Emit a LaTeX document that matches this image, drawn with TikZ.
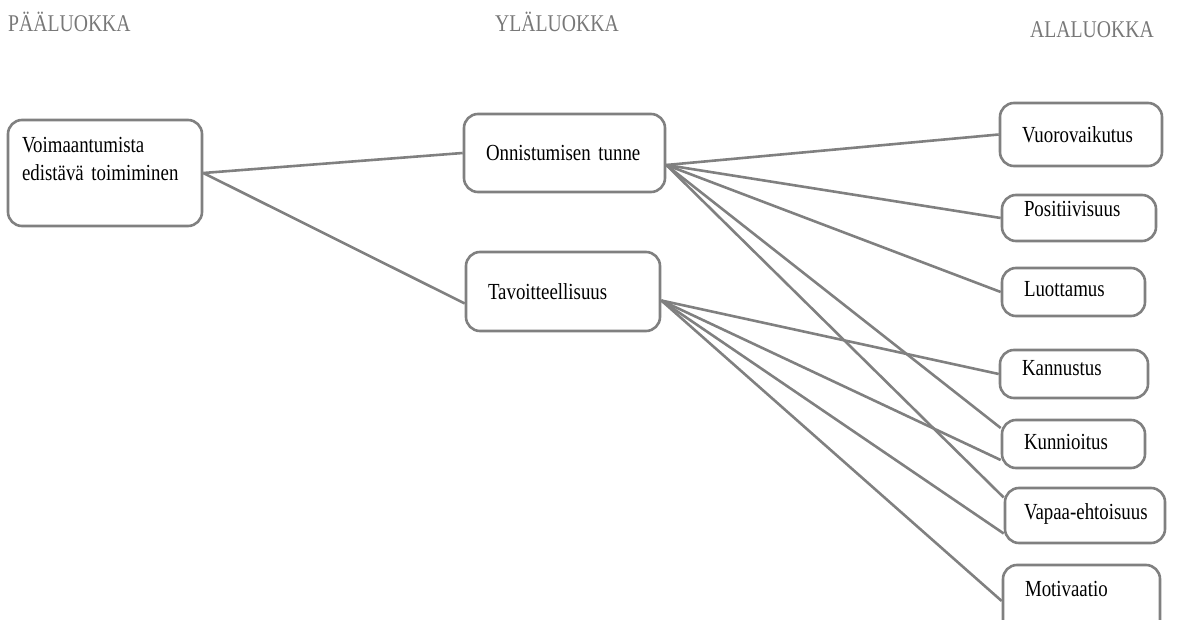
\documentclass[tikz,border=0pt]{standalone}
\usepackage{fontspec}
\setmainfont{Liberation Serif}[FakeStretch=0.82, WordSpace=0.85]
\usepackage{tikz}
\usetikzlibrary{calc}
\definecolor{linegray}{RGB}{128,128,128}
\definecolor{headgray}{RGB}{120,120,120}
\newcommand{\boxfont}{\fontsize{23}{28}\selectfont}
\newcommand{\headfont}{\fontsize{24}{28}\selectfont}

\begin{document}
\begin{tikzpicture}[x=1pt, y=-1pt,
  head/.style={font=\headfont, text=headgray, anchor=west, inner sep=0pt},
  box/.style={draw=linegray, line width=2.6pt, rounded corners=14pt, align=left, font=\boxfont, inner xsep=22pt, inner ysep=0pt},
  link/.style={draw=linegray, line width=2.6pt}
]
\useasboundingbox (0,0) rectangle (1179,620);
% column titles
\node[head] (hpaa) at (8,22) {PÄÄLUOKKA};
\node[head] (hyla) at (495,22) {YLÄLUOKKA};
\node[head] (hala) at (1030,30) {ALALUOKKA};
% main class
\node[box, inner xsep=14pt, text width=166pt, minimum width=194pt, minimum height=106pt] (voim) at (105,173) {Voimaantumista\\edistävä toimiminen\\\mbox{}};
% upper classes
\node[box, text width=157pt, minimum width=201pt, minimum height=78pt] (onn) at (564.5,153) {Onnistumisen tunne};
\node[box, text width=150pt, minimum width=194pt, minimum height=79pt] (tav) at (563,291.5) {Tavoitteellisuus};
% sub classes
\node[box, text width=118pt, minimum width=162pt, minimum height=63pt] (vuo) at (1081,134.5) {Vuorovaikutus};
\node[box, text width=110pt, text depth=18pt, minimum width=154pt, minimum height=46pt] (pos) at (1079,218) {Positiivisuus};
\node[box, text width=99pt, text depth=6pt, minimum width=143pt, minimum height=48pt] (luo) at (1073.5,292) {Luottamus};
\node[box, text width=104pt, text depth=12pt, minimum width=148pt, minimum height=48pt] (kan) at (1074,374) {Kannustus};
\node[box, text width=99pt, text depth=4pt, minimum width=143pt, minimum height=48pt] (kun) at (1073.5,444) {Kunnioitus};
\node[box, inner xsep=19pt, text width=122pt, text depth=8pt, minimum width=160pt, minimum height=55pt] (vap) at (1085,515.5) {\mbox{Vapaa-ehtoisuus}};
\node[box, text width=113pt, text depth=24pt, minimum width=157pt, minimum height=72pt] (mot) at (1081.5,601) {Motivaatio};
% line ends
\coordinate (onnR) at ($(onn.east)+(0,12)$);
\coordinate (tavR) at ($(tav.east)+(0,9)$);
\coordinate (tavL) at ($(tav.west)+(0,12)$);
% links
\draw[link] (voim.east) -- (onn.west);
\draw[link] (voim.east) -- (tavL);
\draw[link] (onnR) -- (vuo.west);
\draw[link] (onnR) -- (pos.west);
\draw[link] (onnR) -- (luo.west);
\draw[link] (onnR) -- ($(kun.west)+(0,-16)$);
\draw[link] (onnR) -- ($(vap.west)+(0,-18)$);
\draw[link] (tavR) -- (kan.west);
\draw[link] (tavR) -- ($(kun.west)+(0,16)$);
\draw[link] (tavR) -- ($(vap.west)+(0,18)$);
\draw[link] (tavR) -- (mot.west);
\end{tikzpicture}
\end{document}
